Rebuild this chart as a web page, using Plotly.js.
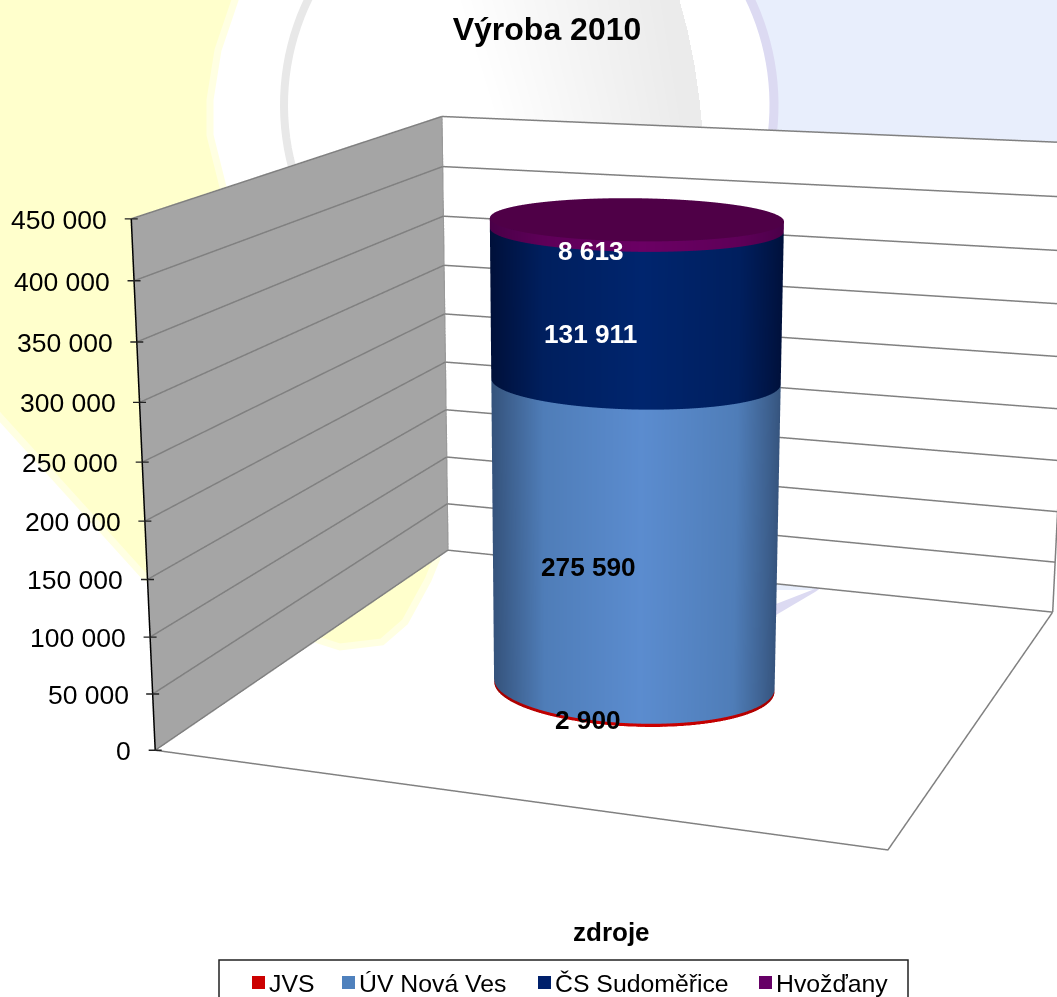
<!DOCTYPE html>
<html><head><meta charset="utf-8">
<script src="https://cdn.plot.ly/plotly-3.0.1.min.js"></script>
<style>html,body{margin:0;padding:0;width:1057px;height:997px;overflow:hidden;background:#fff;position:relative}
#chart{position:absolute;left:-722px;top:-617px;width:2358px;height:2358px}</style>
</head><body><div id="chart"></div>
<script>
const seriesNames=['JVS','ÚV Nová Ves','ČS Sudoměřice','Hvožďany'];
const seriesValues=[2900,275590,131911,8613];
const seriesLabels=['2 900','275 590','131 911','8 613'];
const labelColor=['#000','#000','#fff','#fff'];
const sideDark=['#a00000','#35537c','#00103a','#4a0048'];
const sideMid=['#c00000','#4f7db8','#001f5e','#5e0058'];
const sideLight=['#cc0000','#5b8ccf','#00256e','#6b0064'];
const legendColors=['#cc0000','#4f81bd','#00206b','#660066'];
const legendMarkerX=[252,342,538,759];
const capColor='#4f0047';
const zTicks=[0,50000,100000,150000,200000,250000,300000,350000,400000,450000];
const zTickLabels=['0','50 000','100 000','150 000','200 000','250 000','300 000','350 000','400 000','450 000'];
const titleText='Výroba 2010', xTitle='zdroje';

const L=722,T=617,S=2358;
const px=v=>(v+L)/S, py=v=>1-(v+T)/S;
const P=(x,y)=>(x+L)/S+','+(1-(y+T)/S);
const XMAX=1,YMAX=1.023,ZMAX=450000;
const CX=.512,CY=.4757,RX=.2015,RY=.172,N=96,FRONT=-1.24;
const angles=[];for(let i=0;i<=N;i++)angles.push(i/N*2*Math.PI);
const flat={ambient:1,diffuse:0,specular:0,fresnel:0,roughness:1};
const noHi={x:{highlight:false},y:{highlight:false},z:{highlight:false}};
const traces=[];
function seg(xs,ys,zs,color,width){traces.push({type:'scatter3d',mode:'lines',x:xs,y:ys,z:zs,line:{color:color,width:width},hoverinfo:'skip',showlegend:false});}
// gridlines on the two walls
zTicks.forEach(z=>seg([0,0,XMAX],[0,YMAX,YMAX],[z,z,z],'#808080',3));
// wall and floor edges
seg([0,0],[YMAX,YMAX],[0,ZMAX],'#9a9a9a',3);
seg([XMAX,XMAX],[YMAX,YMAX],[0,ZMAX],'#808080',3);
seg([0,XMAX,XMAX],[0,0,YMAX],[0,0,0],'#808080',3);
seg([0,0],[0,0],[0,ZMAX],'#000000',3);
let base=0;
seriesValues.forEach((v,k)=>{
  const top=base+v;
  const xr=angles.map(a=>CX+RX*Math.cos(a)), yr=angles.map(a=>CY+RY*Math.sin(a));
  const shade=angles.map(a=>Math.abs(Math.sin(a-FRONT)));
  traces.push({type:'surface',showscale:false,hoverinfo:'skip',x:[xr,xr],y:[yr,yr],
    z:[angles.map(()=>base),angles.map(()=>top)],surfacecolor:[shade,shade],
    cmin:0,cmax:1,colorscale:[[0,sideLight[k]],[.65,sideMid[k]],[1,sideDark[k]]],lighting:flat,contours:noHi});
  base=top;
});
traces.push({type:'surface',showscale:false,hoverinfo:'skip',
  x:[angles.map(()=>CX),angles.map(a=>CX+RX*Math.cos(a))],
  y:[angles.map(()=>CY),angles.map(a=>CY+RY*Math.sin(a))],
  z:[angles.map(()=>base),angles.map(()=>base)],
  surfacecolor:[angles.map(()=>0),angles.map(()=>0)],cmin:0,cmax:1,colorscale:[[0,capColor],[1,capColor]],lighting:flat,contours:noHi});

let run=0;
const fx=CX+.53*RX*Math.cos(FRONT), fy=CY+.53*RY*Math.sin(FRONT);
const sceneAnn=seriesValues.map((v,k)=>{const mid=run+v/2;run+=v;
  return {x:fx,y:fy,z:mid,text:'<b>'+seriesLabels[k]+'</b>',showarrow:false,xshift:-49,yshift:-15,
    font:{family:'Liberation Sans',size:26.2,color:labelColor[k]}};});
zTicks.forEach((z,i)=>{
  sceneAnn.push({x:0,y:0,z:z,text:zTickLabels[i],showarrow:false,xanchor:'right',xshift:-22,yshift:-1,
    font:{family:'Liberation Sans',size:26.5,color:'#000'}});
  [-8,8].forEach(d=>sceneAnn.push({x:0,y:0,z:z,text:'',showarrow:true,arrowhead:0,arrowwidth:1.3,arrowcolor:'#222',standoff:0,ax:d,ay:0}));
});

// decorative page background
const poly=a=>'M'+a.map(p=>P(p[0],p[1])).join('L');
function arc(cx,cy,r,a0,a1){const o=[];for(let i=0;i<=40;i++){const t=(a0+(a1-a0)*i/40)*Math.PI/180;o.push([cx+r*Math.cos(t),cy+r*Math.sin(t)]);}return o;}
const shape=(path,fill,line,w)=>({type:'path',xref:'paper',yref:'paper',layer:'below',path:path,fillcolor:fill,line:{color:line||'rgba(0,0,0,0)',width:w||0}});
const bg=[];
bg.push(shape(poly([[-20,-20],[240,-20],[235,0],[218,50],[210,100],[210,135],[225,195],[437,558],[428,580],[405,622],[382,642],[340,647],[318,640],[145,577],[0,417],[-20,395]])+'Z','#ffffcc','#ffffe2',7));
bg.push(shape(poly(arc(527,105,247,-64,30).concat([[772,590],[815,590],[1057,420],[1057,0]]))+'Z','#e8eefc'));
bg.push(shape(poly(arc(527,105,247,-64,30)),'rgba(0,0,0,0)','#dcdaf2',9));
bg.push(shape(poly([[776,604],[825,585],[815,592],[776,615]])+'Z','#dcdaf2'));
bg.push(shape(poly(arc(527,105,243,148,245)),'rgba(0,0,0,0)','#e8e8e8',8));
for(let k=0;k<20;k++){
  bg.push(shape(poly([[460+10.5*k,0],[680,0],[688,30],[695,65],[700,100],[703,130],[500+9.5*k,130]])+'Z','rgba(0,0,0,.004)'));
}
// legend box and swatches
bg.push({type:'rect',xref:'paper',yref:'paper',layer:'above',x0:px(219),x1:px(908),y0:py(960),y1:py(1012),fillcolor:'#fff',line:{color:'#222',width:1.5}});
legendMarkerX.forEach((x,k)=>bg.push({type:'rect',xref:'paper',yref:'paper',layer:'above',x0:px(x),x1:px(x+13),y0:py(976),y1:py(989),fillcolor:legendColors[k],line:{width:0}}));
const ann=[{xref:'paper',yref:'paper',x:px(611),y:py(932),xanchor:'center',yanchor:'middle',text:'<b>'+xTitle+'</b>',showarrow:false,font:{family:'Liberation Sans',size:26,color:'#000'}}];
seriesNames.forEach((n,k)=>ann.push({xref:'paper',yref:'paper',x:px(legendMarkerX[k]+15),y:py(983),xanchor:'left',yanchor:'middle',text:n,showarrow:false,font:{family:'Liberation Sans',size:24.8,color:'#000'}}));

const axis={showspikes:false,zeroline:false,showticklabels:false,ticks:'',title:{text:''},showgrid:false,showline:false};
const layout={width:S,height:S,margin:{l:0,r:0,t:0,b:0,pad:0},paper_bgcolor:'#fff',showlegend:false,
 title:{text:'<b>'+titleText+'</b>',x:px(547),y:py(29),xanchor:'center',yanchor:'middle',font:{family:'Liberation Sans',size:32,color:'#000'}},
 shapes:bg,annotations:ann,
 scene:{domain:{x:[0,1],y:[0,1]},aspectmode:'manual',aspectratio:{x:XMAX,y:YMAX,z:.716},bgcolor:'rgba(0,0,0,0)',
  camera:{projection:{type:'perspective'},up:{x:-.096,y:.265,z:.959},eye:{x:1.251,y:-3.666,z:.953},center:{x:-.2126,y:-.142,z:-.1688}},
  annotations:sceneAnn,
  xaxis:Object.assign({},axis,{range:[0,XMAX],showbackground:true,backgroundcolor:'#a5a5a5'}),
  yaxis:Object.assign({},axis,{range:[0,YMAX],showbackground:true,backgroundcolor:'#ffffff'}),
  zaxis:Object.assign({},axis,{range:[0,ZMAX],tickvals:zTicks,showbackground:false})}
};
Plotly.newPlot('chart',traces,layout,{displayModeBar:false});
</script></body></html>
